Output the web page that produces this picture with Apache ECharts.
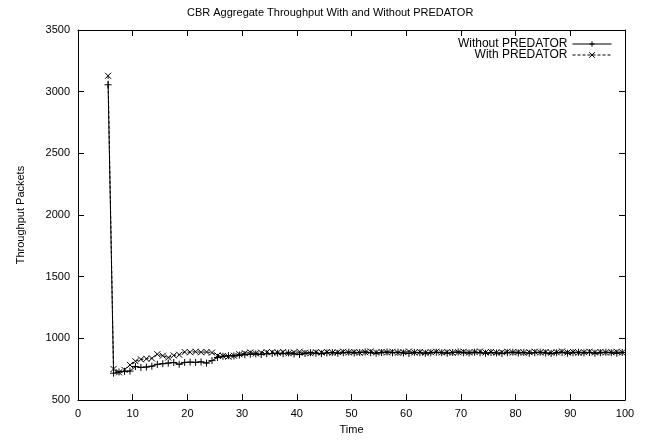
<!DOCTYPE html>
<html><head><meta charset="utf-8">
<script src="https://cdn.jsdelivr.net/npm/echarts@6/dist/echarts.min.js"></script>
<style>html,body{margin:0;padding:0;background:#fff}#c{width:647px;height:440px}</style>
</head><body><div id="c"></div>
<script>
var times = [5.5,6.5,7.5,8.5,9.5,10.5,11.5,12.5,13.5,14.5,15.5,16.5,17.5,18.5,19.5,20.5,21.5,22.5,23.5,24.5,
25.5,26.5,27.5,28.5,29.5,30.5,31.5,32.5,33.5,34.5,35.5,36.5,37.5,38.5,39.5,40.5,41.5,42.5,43.5,44.5,
45.5,46.5,47.5,48.5,49.5,50.5,51.5,52.5,53.5,54.5,55.5,56.5,57.5,58.5,59.5,60.5,61.5,62.5,63.5,64.5,
65.5,66.5,67.5,68.5,69.5,70.5,71.5,72.5,73.5,74.5,75.5,76.5,77.5,78.5,79.5,80.5,81.5,82.5,83.5,84.5,
85.5,86.5,87.5,88.5,89.5,90.5,91.5,92.5,93.5,94.5,95.5,96.5,97.5,98.5,99.5];
var withoutPredator = [3056,718,728,733,735,772,765,768,775,790,795,800,805,790,805,808,806,810,800,820,
845,855,860,858,865,868,872,875,870,876,
878,880,876,882,874,870,878,884,880,876,
882,886,880,884,888,882,886,890,884,880,
886,890,884,888,882,878,886,884,880,884,
888,884,880,886,890,884,882,888,884,880,
886,882,878,884,888,882,886,880,884,888,
882,878,884,886,880,884,888,882,886,880,
884,888,884,880,886];
var withPredator = [3129,752,725,745,785,815,830,835,838,872,860,845,862,868,890,888,892,888,890,885,
862,858,852,860,872,880,886,878,884,888,
888,884,890,880,886,892,884,880,888,886,
890,884,888,892,886,890,884,888,894,886,
890,886,892,884,888,894,886,890,884,888,
892,886,890,884,888,892,886,890,894,886,
890,884,888,892,886,890,884,888,892,886,
890,884,888,894,886,890,884,888,892,886,
890,886,888,892,886];
var xTicks = {min:0, max:100, interval:10};
var yTicks = {min:500, max:3500, interval:500};

function pairs(v){ return times.map(function(t,i){ return [t, v[i]]; }); }
var FONT = 'Liberation Sans';
var plus = 'path://M0,5L10,5M5,0L5,10';
var cross = 'path://M0,0L10,10M10,0L0,10';
var chart = echarts.init(document.getElementById('c'), null, {renderer:'canvas'});
function plain(v){ return String(v); }
function axisCommon(extra){
  return Object.assign({
    axisLine:{show:true, onZero:false, lineStyle:{color:'#000', width:1}},
    axisTick:{show:true, inside:true, length:6, lineStyle:{color:'#000', width:1}},
    splitLine:{show:false},
    axisLabel:{color:'#000', fontFamily:FONT, fontSize:11, formatter:plain}
  }, extra);
}
chart.setOption({
  animation:false,
  backgroundColor:'#fff',
  title:{text:'CBR Aggregate Throughput With and Without PREDATOR', left:182, top:2,
    textStyle:{fontFamily:FONT, fontSize:11, fontWeight:'normal', color:'#000'}},
  grid:{left:78, right:22, top:30, bottom:38},
  legend:{orient:'vertical', right:30, top:33, align:'right', itemWidth:39, itemHeight:7, itemGap:-1,
    lineStyle:{width:1},
    itemStyle:{borderWidth:1},
    textStyle:{fontFamily:FONT, fontSize:12, color:'#000'},
    data:['Without PREDATOR','With PREDATOR']},
  xAxis:[
    axisCommon({type:'value', min:xTicks.min, max:xTicks.max, interval:xTicks.interval, position:'bottom',
      name:'Time', nameLocation:'middle', nameGap:20, nameTextStyle:{fontFamily:FONT, fontSize:11, color:'#000'},
      axisLabel:{color:'#000', fontFamily:FONT, fontSize:11, margin:8, formatter:plain}}),
    axisCommon({type:'value', min:xTicks.min, max:xTicks.max, interval:xTicks.interval, position:'top',
      axisLabel:{show:false}})
  ],
  yAxis:[
    axisCommon({type:'value', min:yTicks.min, max:yTicks.max, interval:yTicks.interval, position:'left',
      name:'Throughput Packets', nameLocation:'middle', nameGap:52, nameTextStyle:{fontFamily:FONT, fontSize:11, color:'#000'},
      axisLabel:{color:'#000', fontFamily:FONT, fontSize:11, margin:8, formatter:plain}}),
    axisCommon({type:'value', min:yTicks.min, max:yTicks.max, interval:yTicks.interval, position:'right',
      axisLabel:{show:false}})
  ],
  series:[
    {name:'Without PREDATOR', type:'line', data:pairs(withoutPredator), symbol:plus, symbolSize:7,
      showAllSymbol:true,
      lineStyle:{color:'#000', width:1, type:'solid'},
      itemStyle:{color:'#000', borderColor:'#000', borderWidth:1}},
    {name:'With PREDATOR', type:'line', data:pairs(withPredator), symbol:cross, symbolSize:6,
      showAllSymbol:true,
      lineStyle:{color:'#000', width:1, type:[3,2]},
      itemStyle:{color:'#000', borderColor:'#000', borderWidth:1}}
  ]
});
</script></body></html>
